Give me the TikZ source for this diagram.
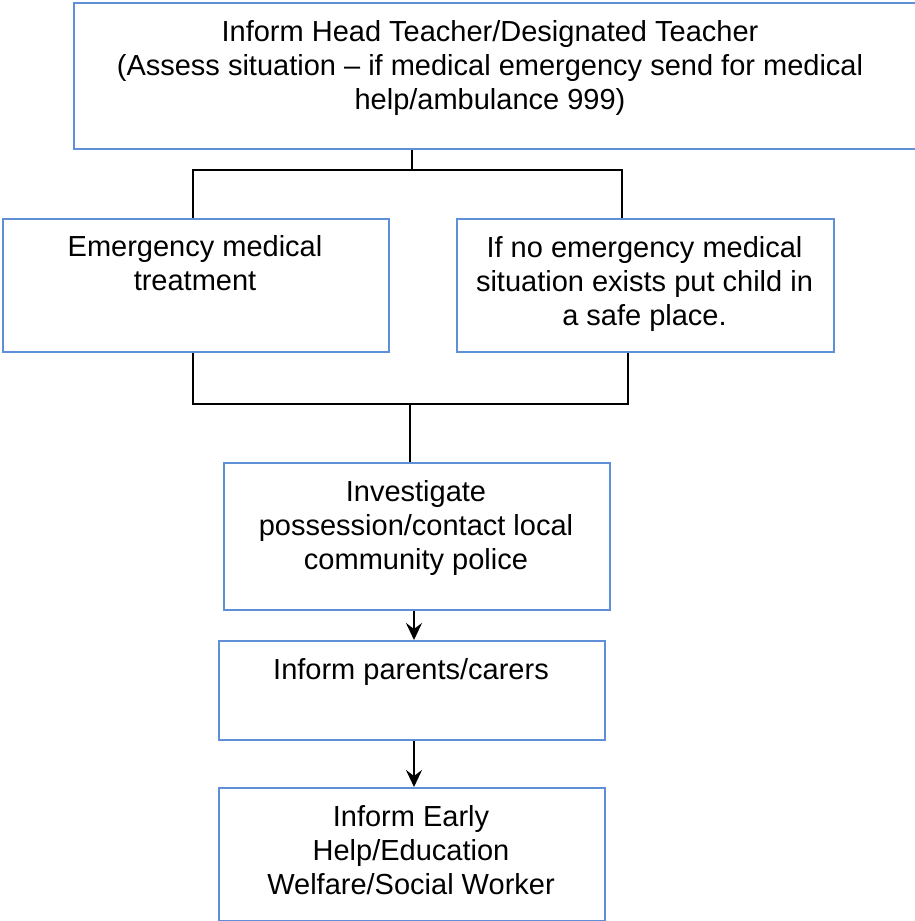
\documentclass[tikz,border=0pt]{standalone}
\usepackage{fontspec}
\setmainfont{Liberation Sans}
\usetikzlibrary{arrows.meta}
\definecolor{boxblue}{RGB}{95,143,214}

\begin{document}
\begin{tikzpicture}[x=1pt,y=-1pt,
    box/.style={draw=boxblue,line width=2pt,rectangle,inner sep=0pt,anchor=north west},
    txt/.style={font=\fontsize{29}{34}\selectfont,align=center,anchor=north,inner sep=0pt},
    link/.style={draw=black,line width=2pt},
    arr/.style={link,line width=2.6pt,-{Stealth[length=17pt,width=16pt,inset=6pt]}}]
    \useasboundingbox (0,0) rectangle (915,921);
    \foreach \name/\x/\y/\w/\h in {head/73/2/845/146, emerg/2/218/386/133,
      nosit/456/218/377/133, invest/223/462/386/147,
      parents/218/640/386/99, early/218/787/386/133}
    {
      \node[box,minimum width=\w,minimum height=\h] (\name) at (\x,\y) {};
    }
    \node[txt] (headtxt) at (490,20) {Inform Head Teacher/Designated Teacher\\
      (Assess situation -- if medical emergency send for medical\\
      help/ambulance 999)};
    \node[txt] (emergtxt) at (195,235) {Emergency medical\\treatment};
    \node[txt] (nosittxt) at (644.5,236) {If no emergency medical\\
      situation exists put child in\\a safe place.};
    \node[txt] (investtxt) at (416,480) {Investigate\\
      possession/contact local\\community police};
    \node[txt] (parentstxt) at (411,658) {Inform parents/carers};
    \node[txt] (earlytxt) at (411,805) {Inform Early\\Help/Education\\
      Welfare/Social Worker};
    % branch points
    \coordinate (split) at (412,170);
    \coordinate (lt) at (193,170);
    \coordinate (rt) at (622,170);
    \coordinate (lb) at (193,404);
    \coordinate (rb) at (628,404);
    \coordinate (join) at (410,404);
    \coordinate (down) at (414,0);
    \draw[link] (head.south -| split) -- (split);
    \draw[link] (emerg.north -| lt) -- (lt) -- (rt) -- (nosit.north -| rt);
    \draw[link] (emerg.south -| lb) -- (lb) -- (rb) -- (nosit.south -| rb);
    \draw[link] (join) -- (invest.north -| join);
    \draw[arr] (invest.south -| down) -- (parents.north -| down);
    \draw[arr] (parents.south -| down) -- (early.north -| down);
\end{tikzpicture}
\end{document}
